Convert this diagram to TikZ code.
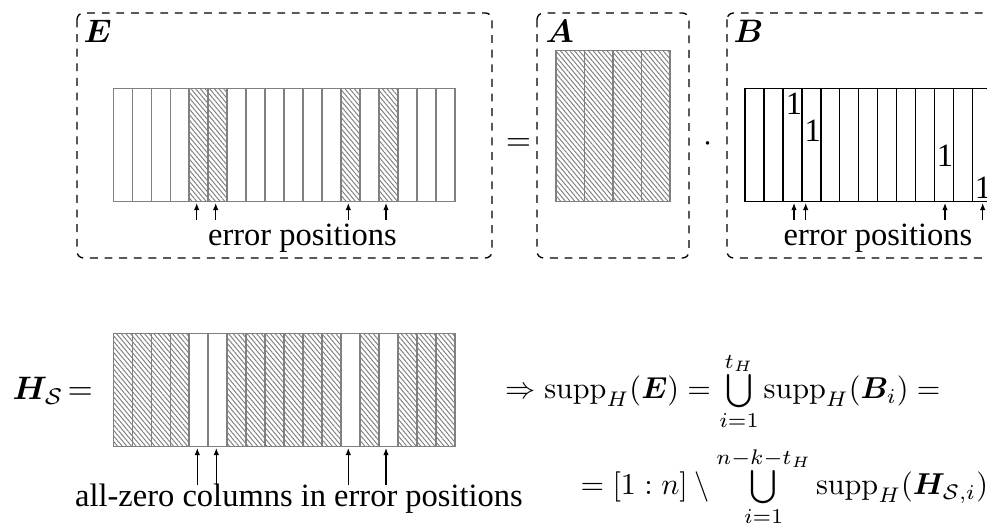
\documentclass[tikz,border=0pt]{standalone}
\usepackage{amsmath,amssymb}
\usepackage{bm}
\usepackage{graphicx}
\usepackage[no-math]{fontspec}
\setmainfont{Liberation Serif}
\usetikzlibrary{patterns.meta,arrows.meta}
\DeclareMathOperator{\suppop}{supp}
\newcommand{\myUnion}{\mathop{\vcenter{\hbox{\scalebox{1.1}{$\bigcup$}}}}}
\newcommand{\lowlim}{\vrule height 4.5pt depth 0pt width 0pt}
\tikzset{
 every node/.style={font=\fontsize{10}{12}\selectfont, inner sep=0pt},
 dashbox/.style={draw, dash pattern=on 2.4pt off 2.1pt, rounded corners=2pt, line width=0.4pt},
 hcol/.style={draw=gray, line width=0.45pt, pattern={Lines[angle=-50,distance=1.1pt,line width=0.3pt]}, pattern color=gray},
 wcol/.style={draw=gray, line width=0.45pt},
 bcol/.style={draw=black, line width=0.45pt},
 errarrow/.style={-{Latex[length=2.2pt,width=1.7pt]}, line width=0.35pt},
}
\begin{document}
\begin{tikzpicture}[x=0.3077pt,y=-0.3077pt]
\clip (0,0) rectangle (987,523);
% dashed boxes
\draw[dashbox] (77,13) rectangle (492,258);
\draw[dashbox] (537,13) rectangle (689,258);
\draw[dashbox] (727,13) rectangle (1100,258);
\node[anchor=base west] (lblE) at (83,43) {$\boldsymbol{E}$};
\node[anchor=base west] (lblA) at (545,43) {$\boldsymbol{A}$};
\node[anchor=base west] (lblB) at (733,43) {$\boldsymbol{B}$};
% E matrix
\foreach \i in {0,...,17}{
  \draw[wcol] ({113.3+\i*18.98},88.3) rectangle ({113.3+(\i+1)*18.98},201.7);
}
\foreach \i in {4,5,12,14}{
  \draw[hcol] ({113.3+\i*18.98},88.3) rectangle ({113.3+(\i+1)*18.98},201.7);
}
% A matrix
\foreach \i in {0,...,3}{
  \draw[hcol] ({556+\i*28.5},50.7) rectangle ({556+(\i+1)*28.5},201.7);
}
% B matrix
\foreach \i in {0,...,17}{
  \draw[bcol] ({745+\i*18.95},88.3) rectangle ({745+(\i+1)*18.95},201.7);
}
\node (b1) at (794,104) {1};
\node (b2) at (812.7,130.7) {1};
\node (b3) at (945,156) {1};
\node (b4) at (983,188) {1};
% operators
\node[anchor=base] (eq1) at (518.5,150.7) {$=$};
\node[anchor=base] (dot1) at (707.7,151.7) {$\cdot$};
% arrows
\foreach \x in {196.7,215.7,348.3,386}{
  \draw[errarrow] (\x,220) -- (\x,203);
}
\foreach \x in {794,805.7,945,982.7}{
  \draw[errarrow] (\x,220) -- (\x,203);
}
\node[anchor=base] (errE) at (302.5,246) {error positions};
\node[anchor=base] (errB) at (878,246) {error positions};
% H_S matrix
\node[anchor=base west] (lblH) at (12,400) {$\boldsymbol{H}_{\mathcal{S}}$};
\node[anchor=base west] (lblHeq) at (67,400) {$=$};
\foreach \i in {0,...,17}{
  \draw[wcol] ({113.3+\i*18.98},333.3) rectangle ({113.3+(\i+1)*18.98},446.7);
}
\foreach \i in {0,1,2,3,6,7,8,9,10,11,13,15,16,17}{
  \draw[hcol] ({113.3+\i*18.98},333.3) rectangle ({113.3+(\i+1)*18.98},446.7);
}
\foreach \x in {197.3,216.3,348.3,386}{
  \draw[errarrow] (\x,485) -- (\x,448);
}
\node[anchor=base] (zeroTxt) at (299,506.7) {all-zero columns in error positions};
% formulas
\node[anchor=base west] (f1) at (505,399) {\scalebox{0.93}{$\Rightarrow \suppop_H(\boldsymbol{E}) = \myUnion\limits_{\lowlim i=1}^{t_H} \suppop_H(\boldsymbol{B}_i) =$}};
\node[anchor=base west] (f2) at (580,495) {\scalebox{0.93}{$= [1:n] \setminus \myUnion\limits_{\lowlim i=1}^{n-k-t_H} \suppop_H(\boldsymbol{H}_{\mathcal{S},i})$}};
\end{tikzpicture}
\end{document}
